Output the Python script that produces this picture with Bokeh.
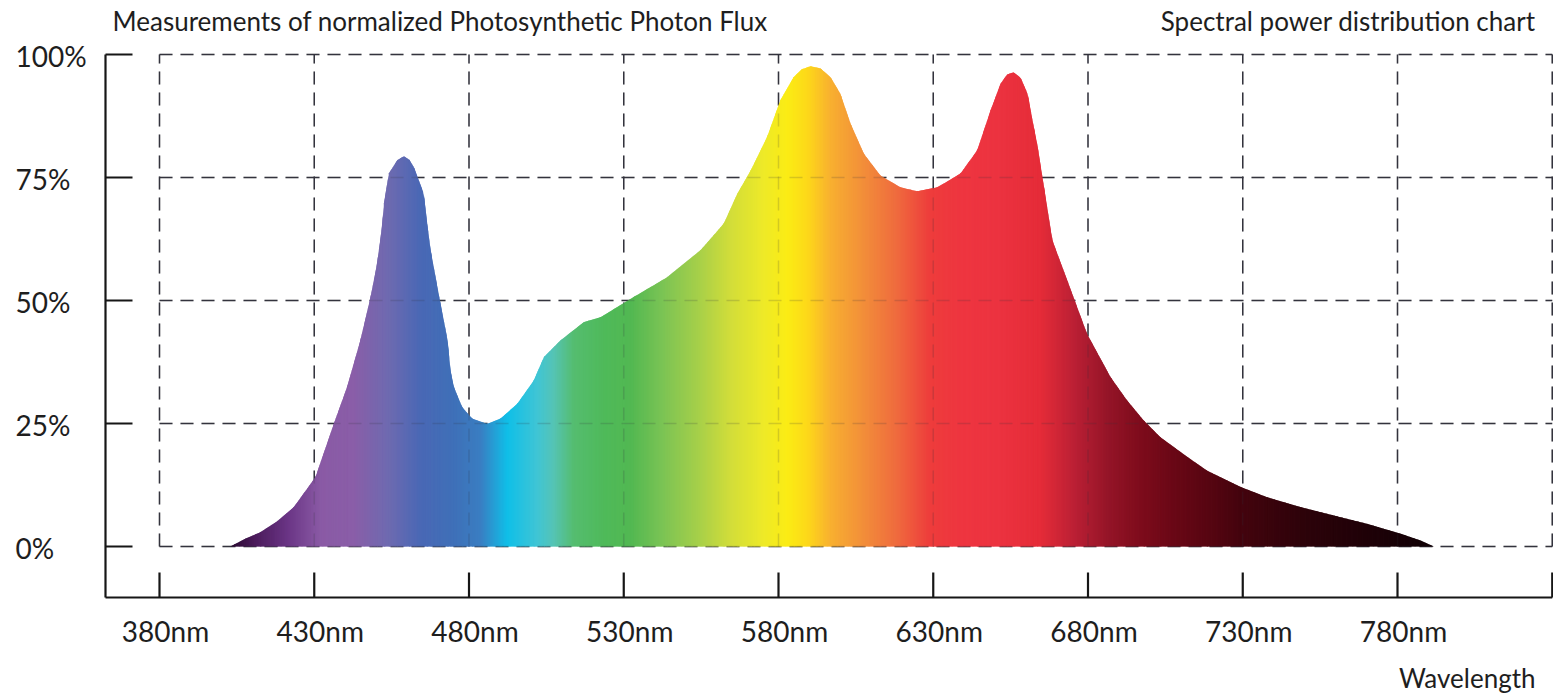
import numpy as np
from bokeh.plotting import figure
from bokeh.models import Range1d, ColumnDataSource
from bokeh.core.properties import value
from bokeh.embed import file_html
from bokeh.resources import INLINE

# ---------------- data ----------------
wavelength_nm = [402.9, 407.8, 412.6, 418.0, 423.4, 430.4, 436.3, 440.6, 444.9, 448.2,
                 450.3, 452.0, 452.5, 454.1, 456.8, 458.9, 460.6, 462.2, 465.4, 466.5,
                 467.6, 470.6, 473.1, 474.0, 475.1, 477.8, 481.0, 485.9, 490.2, 495.6,
                 500.9, 504.2, 509.6, 517.1, 522.5, 533.2, 544.0, 554.8, 562.3, 566.7,
                 571.0, 576.3, 580.6, 584.9, 587.5, 590.3, 593.5, 596.8, 600.0, 603.3,
                 607.6, 612.9, 619.4, 624.8, 631.3, 638.8, 644.2, 648.5, 651.7, 653.8,
                 655.9, 658.2, 660.5, 662.5, 663.6, 665.7, 668.5, 673.3, 679.7, 687.3,
                 692.6, 698.0, 703.4, 712.1, 718.5, 729.3, 737.9, 748.7, 759.4, 770.2,
                 781.0, 787.5, 791.7]
pfd_pct = [0.0, 1.6, 2.9, 5.1, 8.0, 14.1, 24.9, 32.4, 41.9, 50.7,
           57.5, 65.6, 69.7, 75.8, 78.5, 79.3, 78.7, 77.1, 71.7, 65.6,
           60.2, 50.0, 41.9, 35.8, 32.4, 28.3, 26.0, 24.9, 26.0, 29.0,
           33.7, 38.5, 41.9, 45.6, 46.6, 50.7, 54.7, 60.2, 65.6, 71.7,
           76.4, 83.2, 90.7, 95.4, 97.0, 97.6, 97.2, 95.4, 92.0, 85.9,
           79.8, 75.4, 73.0, 72.2, 73.0, 75.8, 80.5, 88.6, 94.0, 95.9,
           96.4, 95.3, 92.0, 85.2, 81.8, 73.4, 62.2, 54.1, 43.2, 34.4,
           29.7, 25.6, 22.2, 18.2, 15.4, 12.1, 10.0, 8.0, 6.3, 4.6,
           2.6, 1.2, 0.0]

x_ticks = [380, 430, 480, 530, 580, 630, 680, 730, 780, 830]
x_tick_labels = ["380nm", "430nm", "480nm", "530nm", "580nm",
                 "630nm", "680nm", "730nm", "780nm"]
y_ticks = [0, 25, 50, 75, 100]
y_tick_labels = ["0%", "25%", "50%", "75%", "100%"]

# colour stops of the spectrum gradient
stop_nm = [402.9, 410.4, 421.4, 432.0, 442.7, 453.7, 464.3, 475.0, 483.7, 492.4,
           502.1, 507.3, 513.8, 523.5, 532.2, 542.8, 553.8, 564.5, 575.2, 582.9,
           589.4, 596.8, 607.5, 618.4, 629.1, 639.8, 650.8, 664.6, 675.3, 686.3,
           696.9, 707.6, 718.6, 729.3, 750.9, 772.3, 788.4]
stop_color = ["#2a0a30", "#4a1a5a", "#6a3585", "#8a5aa5", "#8a5ea8", "#6f6ab0",
              "#4a68b5", "#3f70b8", "#3a7ec2", "#10bfe8", "#40c5d5", "#55c4b5",
              "#55bd70", "#4fba5a", "#52b852", "#7cc454", "#a5cf4a", "#d2dd3a",
              "#eeea28", "#fbec14", "#fdd81a", "#f8b030", "#f28e3a", "#ef6a3e",
              "#ee3c3c", "#ee3540", "#ec3340", "#e52c38", "#bc2035", "#951528",
              "#7e0c1c", "#6a0816", "#580612", "#44040e", "#2c030a", "#1e0208",
              "#120106"]

title_left = "Measurements of normalized Photosynthetic Photon Flux"
title_right = "Spectral power distribution chart"
x_title = "Wavelength"

# ---------------- layout / style ----------------
FONT = "Lato"
TEXT = "#1e1e1e"
AXIS = "#161616"
GRID = "#34343e"
PX_NM = 3.095      # pixels per nm
PX_PCT = 4.92      # pixels per percent
W, H = 1553, 696
X0_PX, Y0_PX = 159, 546          # canvas position of (380 nm, 0 %)


def nm_at(px):
    return x_ticks[0] + (px - X0_PX) / PX_NM


def pct_at(py):
    return (Y0_PX - py) / PX_PCT


AX_X = nm_at(105)      # vertical axis line
AX_Y = pct_at(597)     # horizontal axis line

p = figure(width=W, height=H, output_backend="svg", toolbar_location=None,
           x_axis_location=None, y_axis_location=None,
           x_range=Range1d(nm_at(0), nm_at(W)), y_range=Range1d(pct_at(H), pct_at(0)),
           min_border=0)
p.min_border_left = p.min_border_right = p.min_border_top = p.min_border_bottom = 0
p.outline_line_color = None
p.grid.visible = False
p.background_fill_color = "white"
p.border_fill_color = "white"

# ---------------- dashed grid (under the fill) ----------------
vgrid = ColumnDataSource(dict(x0=x_ticks, x1=x_ticks,
                              y0=[y_ticks[0]] * len(x_ticks),
                              y1=[y_ticks[-1]] * len(x_ticks)))
hgrid = ColumnDataSource(dict(x0=[x_ticks[0]] * len(y_ticks),
                              x1=[x_ticks[-1]] * len(y_ticks),
                              y0=y_ticks, y1=y_ticks))
for src in (vgrid, hgrid):
    p.segment(x0="x0", y0="y0", x1="x1", y1="y1", source=src,
              line_color=GRID, line_width=1.5, line_dash="13 8")

# ---------------- gradient-filled spectrum ----------------
wl = np.asarray(wavelength_nm, dtype=float)
pv = np.asarray(pfd_pct, dtype=float)
stop_rgb = np.array([[int(c[i:i + 2], 16) for i in (1, 3, 5)] for c in stop_color],
                    dtype=float)
edges = np.unique(np.concatenate([np.arange(wl[0], wl[-1], 0.4), wl]))
xs, ys, cols = [], [], []
for a, b in zip(edges[:-1], edges[1:]):
    b2 = min(b + 0.3, wl[-1])
    xs.append([a, b2, b2, a])
    ys.append([0.0, 0.0, float(np.interp(b2, wl, pv)), float(np.interp(a, wl, pv))])
    mid = 0.5 * (a + b)
    rgb = [int(round(np.interp(mid, stop_nm, stop_rgb[:, k]))) for k in range(3)]
    cols.append("#%02x%02x%02x" % tuple(rgb))
p.patches(xs=xs, ys=ys, fill_color=cols, line_color=None)

# faint grid seen through the fill
for src in (vgrid, hgrid):
    p.segment(x0="x0", y0="y0", x1="x1", y1="y1", source=src,
              line_color=GRID, line_width=1.5, line_dash="13 8", line_alpha=0.18)

# ---------------- axes: lines and inward ticks ----------------
p.segment(x0=[AX_X, AX_X], y0=[AX_Y, AX_Y], x1=[AX_X, x_ticks[-1]], y1=[y_ticks[-1], AX_Y],
          line_color=AXIS, line_width=2.2)
p.segment(x0=x_ticks, y0=[AX_Y] * len(x_ticks), x1=x_ticks,
          y1=[AX_Y + 25 / PX_PCT] * len(x_ticks), line_color=AXIS, line_width=2.2)
p.segment(x0=[AX_X] * len(y_ticks), y0=y_ticks, x1=[AX_X + 27 / PX_NM] * len(y_ticks),
          y1=y_ticks, line_color=AXIS, line_width=2.2)

# ---------------- tick labels ----------------
TICK_FS, TITLE_FS = 28, 26
SHIFT_T, SHIFT_H = 12, 11        # renderer's baseline shift, compensated (px)
p.text(x=[t + 6 / PX_NM for t in x_ticks[:len(x_tick_labels)]],
       y=[pct_at(642 - SHIFT_T)] * len(x_tick_labels), text=x_tick_labels,
       text_align="center", text_baseline="alphabetic",
       text_font=value(FONT), text_font_size=f"{TICK_FS}px", text_color=TEXT)
p.text(x=[nm_at(15)] * len(y_ticks), y=[t - (13 - SHIFT_T) / PX_PCT for t in y_ticks],
       text=y_tick_labels, text_align="left", text_baseline="alphabetic",
       text_font=value(FONT), text_font_size=f"{TICK_FS}px", text_color=TEXT)

# ---------------- titles ----------------
p.text(x=[nm_at(112)], y=[pct_at(31 - SHIFT_H)], text=[title_left], text_align="left",
       text_baseline="alphabetic", text_font=value(FONT),
       text_font_size=f"{TITLE_FS}px", text_color=TEXT)
p.text(x=[nm_at(1535)], y=[pct_at(31 - SHIFT_H)], text=[title_right], text_align="right",
       text_baseline="alphabetic", text_font=value(FONT),
       text_font_size=f"{TITLE_FS}px", text_color=TEXT)
p.text(x=[nm_at(1535)], y=[pct_at(688 - SHIFT_H)], text=[x_title], text_align="right",
       text_baseline="alphabetic", text_font=value(FONT),
       text_font_size=f"{TITLE_FS}px", text_color=TEXT)

open("out.html", "w").write(file_html(p, INLINE))
